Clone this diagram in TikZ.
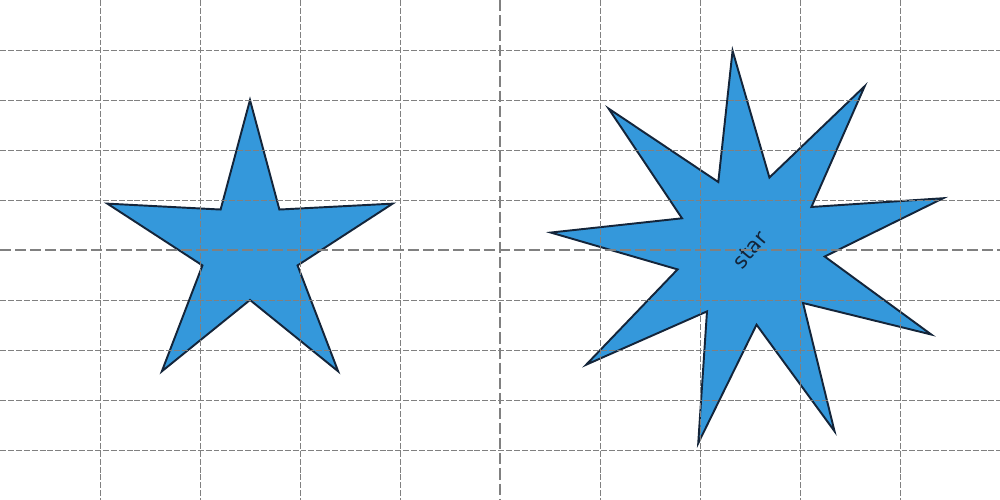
\documentclass[tikz,border=0pt]{standalone}
\usepackage{fontspec}
\setsansfont{DejaVu Sans}
\definecolor{starblue}{HTML}{3498DB}
\definecolor{starline}{HTML}{14253A}

\begin{document}
\begin{tikzpicture}[x=2cm,y=2cm,
		starbody/.style={fill=starblue,draw=starline,line width=1.1pt},
		gridline/.style={draw=gray,line width=0.55pt,dash pattern=on 3.4pt off 1.1pt},
		axisline/.style={draw=gray,line width=1.1pt,dash pattern=on 6.3pt off 2.3pt}]
		
		\useasboundingbox (0,0) rectangle (10,5);
		
		\draw[starbody,shift={(2.5,2.5)}] (90:1.5)
		\foreach \i [evaluate=\i as \r using {ifthenelse(mod(\i,2)==0,1.5,0.5)}] in {1,...,9} {
			-- ({90+36*\i}:\r)} -- cycle;
		
		\draw[starbody,shift={(7.5,2.5)}] (95:2)
		\foreach \i [evaluate=\i as \r using {ifthenelse(mod(\i,2)==0,2,0.75)}] in {1,...,17} {
			-- ({95+20*\i}:\r)} -- cycle;
		
		\node[text=starline,font=\sffamily\fontsize{12}{14}\selectfont,rotate=50] (starlabel) at (7.5,2.5) {star};
		
		\foreach \x in {1,2,3,4,6,7,8,9}
			\draw[gridline] (\x,5) -- (\x,0);
		\foreach \y in {0.5,1,1.5,2,3,3.5,4,4.5}
			\draw[gridline] (0,\y) -- (10,\y);
		\draw[axisline] (5,5) -- (5,0);
		\draw[axisline] (0,2.5) -- (10,2.5);
		\end{tikzpicture}
\end{document}
